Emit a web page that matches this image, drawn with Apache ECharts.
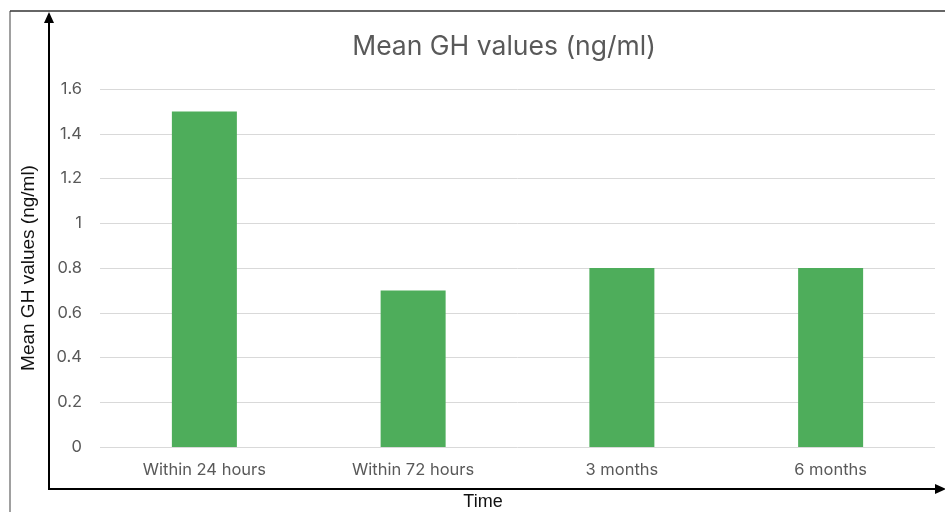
<!DOCTYPE html>
<html><head><meta charset="utf-8">
<script src="https://cdn.jsdelivr.net/npm/echarts@6/dist/echarts.min.js"></script>
<style>html,body{margin:0;padding:0;background:#fff}#c{width:945px;height:512px}</style>
</head><body><div id="c"></div>
<script>
const categories = ["Within 24 hours", "Within 72 hours", "3 months", "6 months"];
const values = [1.5, 0.7, 0.8, 0.8];
const yTicks = [0, 0.2, 0.4, 0.6, 0.8, 1, 1.2, 1.4, 1.6];

const chart = echarts.init(document.getElementById('c'), null, {renderer: 'canvas'});
chart.setOption({
  animation: false,
  backgroundColor: '#fff',
  title: {
    text: 'Mean GH values (ng/ml)', left: 499, top: 29, textAlign: 'center',
    textStyle: {fontFamily: 'Inter', fontSize: 26.5, fontWeight: 'normal', color: '#595959'}
  },
  grid: {left: 100, right: 10, top: 89, bottom: 65, containLabel: false, outerBoundsMode: 'none'},
  xAxis: {
    type: 'category', data: categories,
    axisLine: {show: false}, axisTick: {show: false},
    axisLabel: {margin: 15, fontFamily: 'Inter', fontSize: 16.5, color: '#595959'}
  },
  yAxis: {
    type: 'value', min: 0, max: 1.6, interval: 0.2,
    axisLine: {show: false}, axisTick: {show: false},
    splitLine: {lineStyle: {color: '#d9d9d9', width: 1}},
    axisLabel: {margin: 18, fontFamily: 'Inter', fontSize: 16.5, color: '#595959',
      formatter: v => { const t = yTicks.find(x => Math.abs(x - v) < 1e-9); return t === undefined ? '' : String(t); }},
    name: 'Mean GH values (ng/ml)', nameLocation: 'middle', nameGap: 62, nameRotate: 90,
    nameTextStyle: {fontFamily: 'Liberation Sans', fontSize: 19, color: '#111'}
  },
  series: [{
    type: 'bar', data: values, barWidth: 65,
    itemStyle: {color: '#4EAD5B'}
  }],
  graphic: [
    {type: 'line', shape: {x1: 10, y1: 11, x2: 10, y2: 512}, style: {stroke: '#808080', lineWidth: 1.5}},
    {type: 'line', shape: {x1: 10, y1: 11, x2: 945, y2: 11}, style: {stroke: '#333', lineWidth: 1.5}},
    {type: 'line', shape: {x1: 49, y1: 490, x2: 49, y2: 20}, style: {stroke: '#000', lineWidth: 2}},
    {type: 'polygon', shape: {points: [[49, 12], [44, 23], [54, 23]]}, style: {fill: '#000'}},
    {type: 'line', shape: {x1: 48, y1: 489, x2: 937, y2: 489}, style: {stroke: '#000', lineWidth: 2}},
    {type: 'polygon', shape: {points: [[946, 489], [935, 484], [935, 494]]}, style: {fill: '#000'}},
    {type: 'text', x: 483, y: 502, style: {text: 'Time', fontFamily: 'Liberation Sans', fontSize: 18, fill: '#111', align: 'center', verticalAlign: 'middle'}}
  ]
});
</script></body></html>
